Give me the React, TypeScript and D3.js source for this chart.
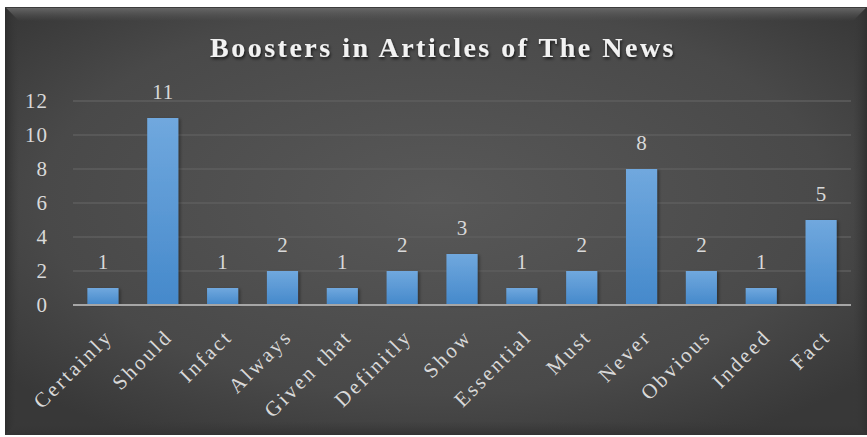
import React from "react";
import * as d3 from "d3";

const title = "Boosters in Articles of The News";
const categories = ["Certainly", "Should", "Infact", "Always", "Given that", "Definitly", "Show", "Essential", "Must", "Never", "Obvious", "Indeed", "Fact"];
const values = [1, 11, 1, 2, 1, 2, 3, 1, 2, 8, 2, 1, 5];
const yTicks = [0, 2, 4, 6, 8, 10, 12];

const W = 867;
const H = 437;
const FONT = "'Liberation Serif', 'Times New Roman', serif";

export default function App() {
  const x = d3.scaleBand<string>().domain(categories).range([73, 851]).paddingInner(0.48).paddingOuter(0.24);
  const y = d3.scaleLinear().domain([0, 12]).range([305, 101]);

  const fx0 = 5, fy0 = 7, fx1 = 867, fy1 = 435;
  const bv = 14;

  return (
    <svg width={W} height={H} style={{ position: "absolute", left: 0, top: 0, background: "#ffffff" }} fontFamily={FONT}>
      <defs>
        <radialGradient id="bg" cx="0.5" cy="0.45" r="0.65">
          <stop offset="0" stopColor="#585858" />
          <stop offset="0.7" stopColor="#494949" />
          <stop offset="1" stopColor="#383838" />
        </radialGradient>
        <linearGradient id="bar" x1="0" y1="0" x2="0" y2="1">
          <stop offset="0" stopColor="#70a8de" />
          <stop offset="1" stopColor="#4589cb" />
        </linearGradient>
        <linearGradient id="topBev" x1="0" y1="0" x2="0" y2="1">
          <stop offset="0" stopColor="#6a6a6a" />
          <stop offset="1" stopColor="#585858" stopOpacity="0" />
        </linearGradient>
        <linearGradient id="leftBev" x1="0" y1="0" x2="1" y2="0">
          <stop offset="0" stopColor="#2e2e2e" />
          <stop offset="1" stopColor="#3a3a3a" stopOpacity="0" />
        </linearGradient>
        <linearGradient id="rightBev" x1="1" y1="0" x2="0" y2="0">
          <stop offset="0" stopColor="#303030" />
          <stop offset="1" stopColor="#3a3a3a" stopOpacity="0" />
        </linearGradient>
        <linearGradient id="botBev" x1="0" y1="1" x2="0" y2="0">
          <stop offset="0" stopColor="#333333" />
          <stop offset="1" stopColor="#3a3a3a" stopOpacity="0" />
        </linearGradient>
        <filter id="tshadow" x="-10%" y="-30%" width="120%" height="160%">
          <feDropShadow dx="1" dy="2" stdDeviation="1.5" floodColor="#000" floodOpacity="0.7" />
        </filter>
        <filter id="bshadow" x="-20%" y="-10%" width="150%" height="120%">
          <feDropShadow dx="2" dy="1" stdDeviation="1.5" floodColor="#000" floodOpacity="0.35" />
        </filter>
      </defs>

      {/* frame */}
      <rect x={fx0} y={fy0} width={fx1 - fx0} height={fy1 - fy0} fill="url(#bg)" />
      <polygon points={`${fx0},${fy0} ${fx1},${fy0} ${fx1 - bv},${fy0 + bv} ${fx0 + bv},${fy0 + bv}`} fill="url(#topBev)" />
      <polygon points={`${fx0},${fy0} ${fx0 + bv},${fy0 + bv} ${fx0 + bv},${fy1 - bv} ${fx0},${fy1}`} fill="url(#leftBev)" />
      <polygon points={`${fx1},${fy0} ${fx1},${fy1} ${fx1 - bv},${fy1 - bv} ${fx1 - bv},${fy0 + bv}`} fill="url(#rightBev)" />
      <polygon points={`${fx0},${fy1} ${fx0 + bv},${fy1 - bv} ${fx1 - bv},${fy1 - bv} ${fx1},${fy1}`} fill="url(#botBev)" />
      <line x1={fx0} x2={fx1} y1={fy0 + 0.5} y2={fy0 + 0.5} stroke="#3c3c3c" strokeWidth={1} />

      {/* title */}
      <text x={443} y={57} textAnchor="middle" fontSize={28} fontWeight="bold" letterSpacing={2.5} fill="#f2f2f2" filter="url(#tshadow)">
        {title}
      </text>

      {/* gridlines */}
      {yTicks.filter((t) => t !== 0).map((t) => (
        <line key={t} x1={73} x2={851} y1={y(t)} y2={y(t)} stroke="#5e5e5e" strokeWidth={1.5} />
      ))}

      {/* y tick labels */}
      {yTicks.map((t) => (
        <text key={t} x={48} y={y(t) + 7} textAnchor="end" fontSize={21} letterSpacing={1} fill="#d9d9d9">
          {t}
        </text>
      ))}

      {/* bars */}
      {categories.map((c, i) => (
        <rect key={c} x={x(c)} y={y(values[i])} width={x.bandwidth()} height={y(0) - y(values[i])} fill="url(#bar)" filter="url(#bshadow)" />
      ))}

      {/* axis line */}
      <line x1={73} x2={851} y1={y(0)} y2={y(0)} stroke="#a6a6a6" strokeWidth={2} />

      {/* data labels */}
      {categories.map((c, i) => (
        <text key={c} x={(x(c) as number) + x.bandwidth() / 2 + 0.5} y={y(values[i]) - 19} textAnchor="middle" fontSize={21} letterSpacing={1} fill="#d9d9d9">
          {values[i]}
        </text>
      ))}

      {/* x labels */}
      {categories.map((c) => {
        const cx = (x(c) as number) + x.bandwidth() / 2;
        return (
          <text key={c} transform={`translate(${cx + 11},${338}) rotate(-45)`} textAnchor="end" fontSize={21} letterSpacing={2.6} fill="#d9d9d9">
            {c}
          </text>
        );
      })}
    </svg>
  );
}
